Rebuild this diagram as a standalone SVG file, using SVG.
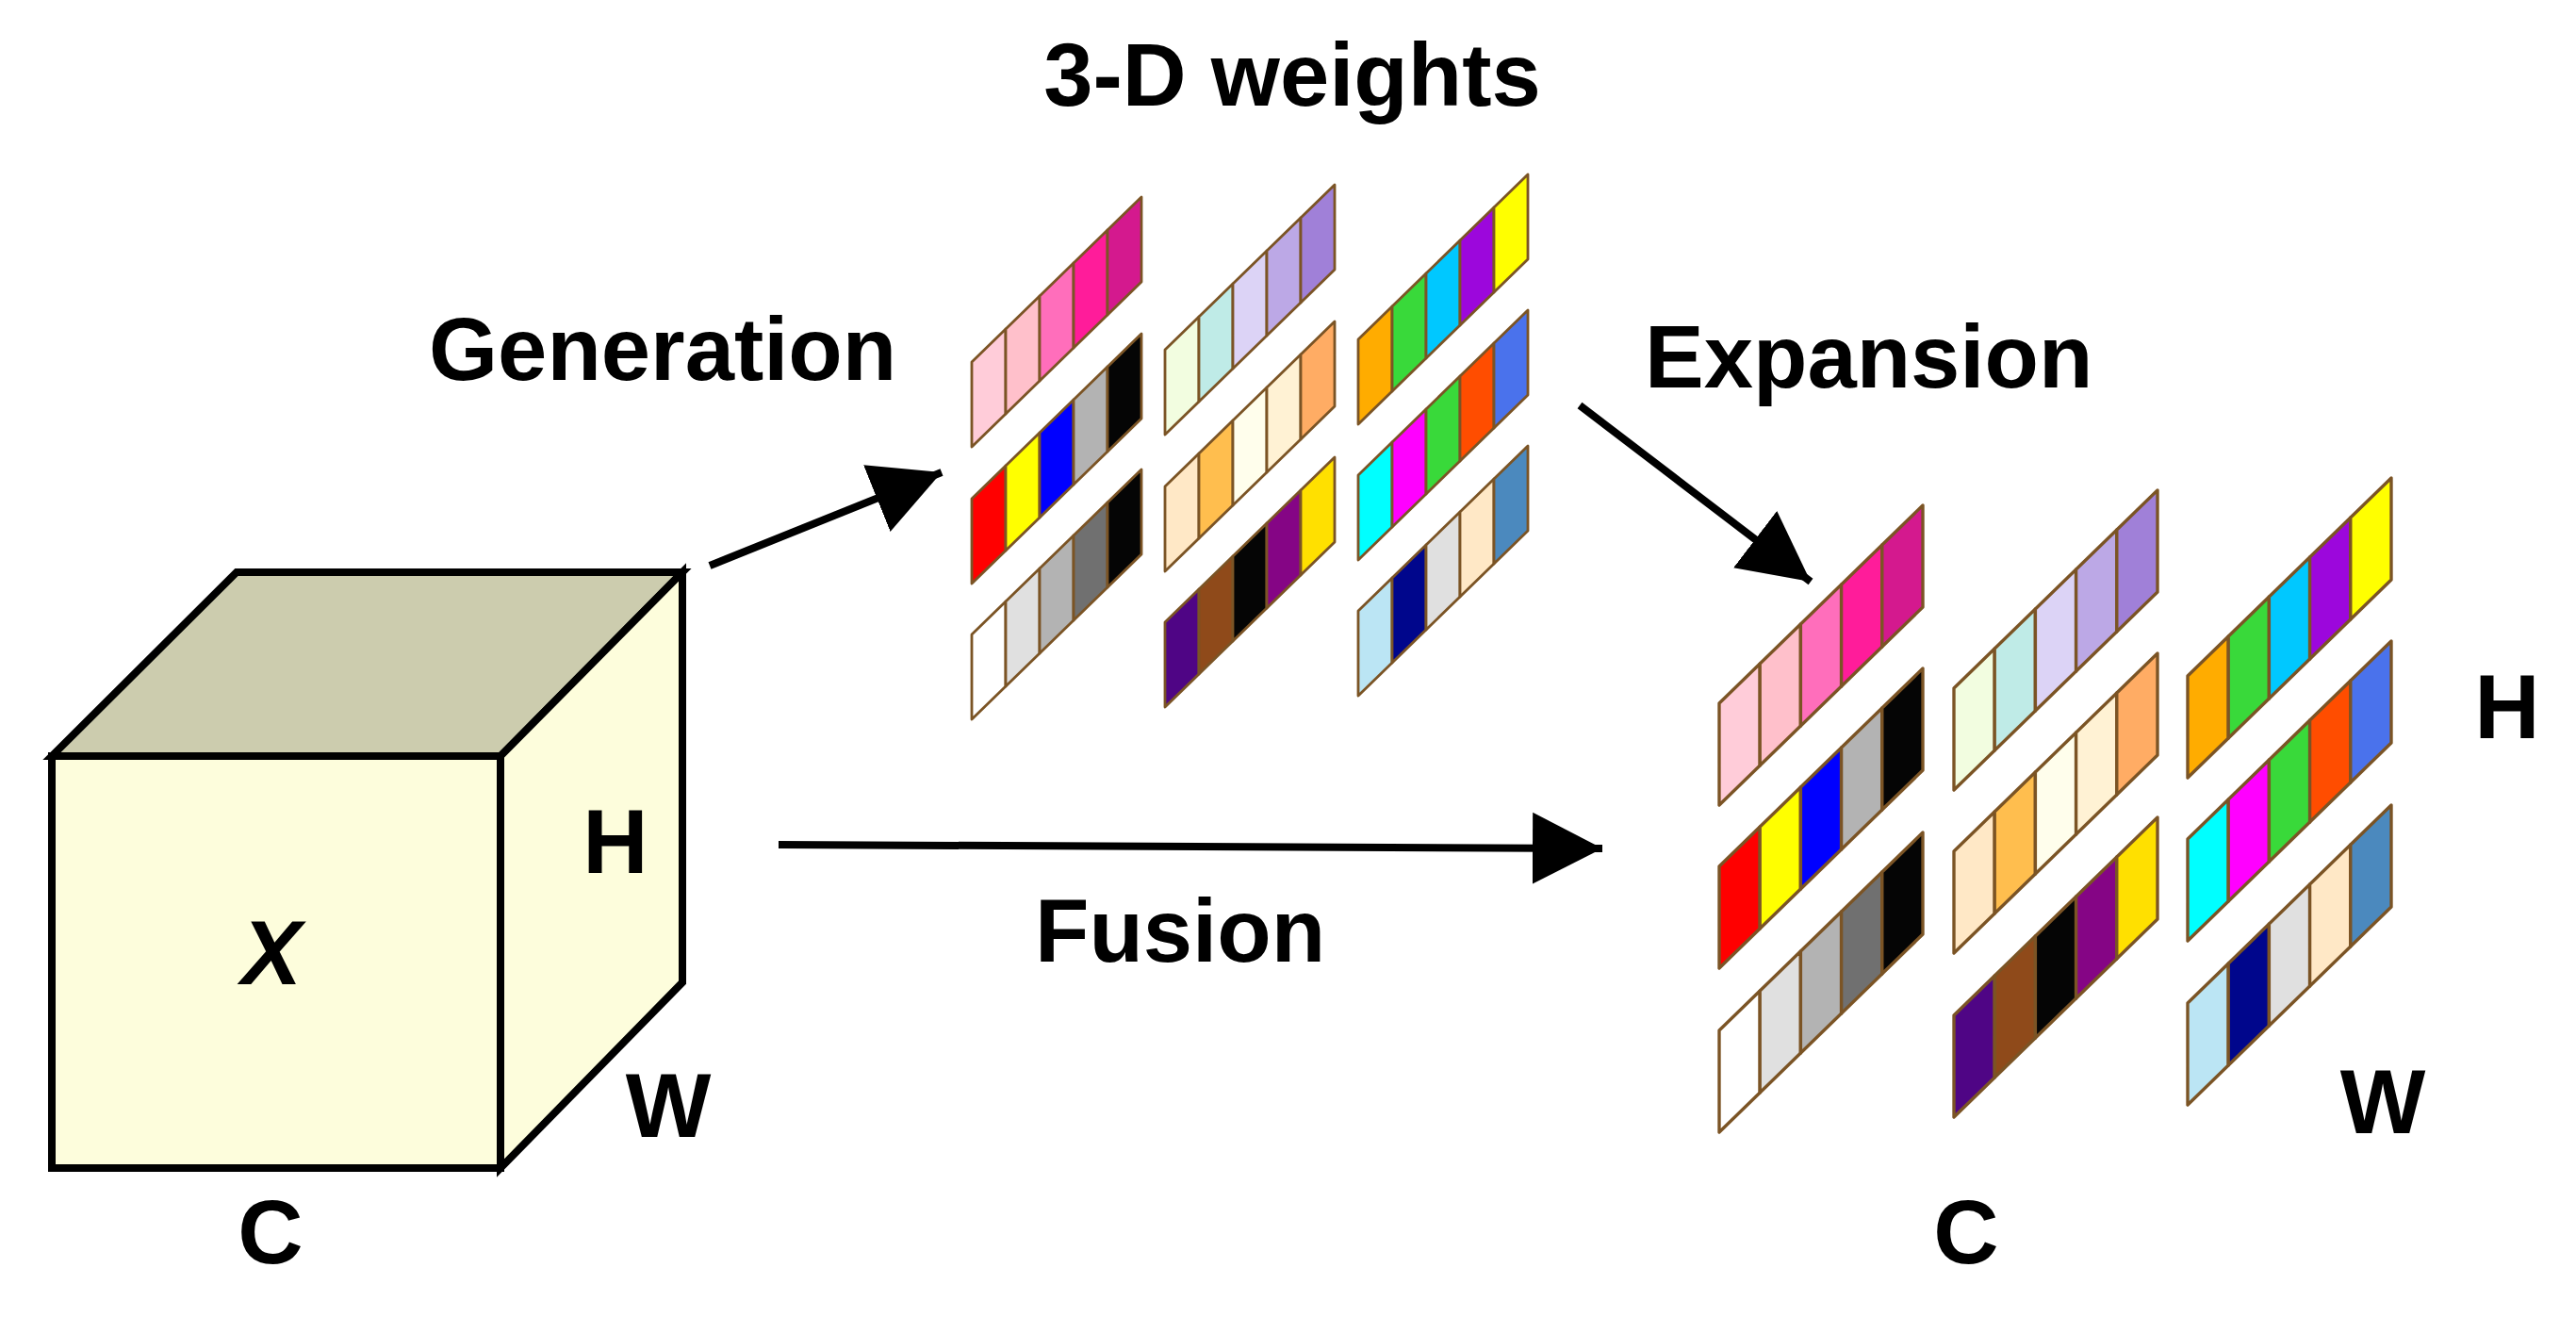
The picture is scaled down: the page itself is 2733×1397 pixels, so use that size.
<svg xmlns="http://www.w3.org/2000/svg" xmlns:xlink="http://www.w3.org/1999/xlink" width="2733" height="1397" viewBox="0 0 2733 1397">
<style>
text{font-family:"Liberation Sans",Arial,sans-serif;font-weight:bold;fill:#000}
.lbl{font-size:94px}
.cube{stroke:#000;stroke-width:8;stroke-linejoin:miter}
.conn{stroke:#000;stroke-width:8;fill:none}
.cell use{stroke:#7B5425;stroke-width:2.8;stroke-linejoin:round}
</style>
<defs>
<polygon id="p0" points="0,0 0,-90 36,-125 36,-35"/>
<polygon id="p1" points="36,-35 36,-125 72,-160 72,-70"/>
<polygon id="p2" points="72,-70 72,-160 108,-195 108,-105"/>
<polygon id="p3" points="108,-105 108,-195 144,-230 144,-140"/>
<polygon id="p4" points="144,-140 144,-230 180,-265 180,-175"/>
<g id="A1"><use href="#p0" fill="#FFCCD9"/><use href="#p1" fill="#FFC0CB"/><use href="#p2" fill="#FF6EBB"/><use href="#p3" fill="#FF1C9A"/><use href="#p4" fill="#D4198E"/></g>
<g id="A2"><use href="#p0" fill="#FF0000"/><use href="#p1" fill="#FFFF00"/><use href="#p2" fill="#0000FF"/><use href="#p3" fill="#B3B3B3"/><use href="#p4" fill="#050505"/></g>
<g id="A3"><use href="#p0" fill="#FFFFFF"/><use href="#p1" fill="#E0E0E0"/><use href="#p2" fill="#B3B3B3"/><use href="#p3" fill="#707070"/><use href="#p4" fill="#050505"/></g>
<g id="B1"><use href="#p0" fill="#F2FDE0"/><use href="#p1" fill="#BFEBE7"/><use href="#p2" fill="#DCD3F6"/><use href="#p3" fill="#BCA8E6"/><use href="#p4" fill="#A080D8"/></g>
<g id="B2"><use href="#p0" fill="#FFE8C6"/><use href="#p1" fill="#FFBE4E"/><use href="#p2" fill="#FFFEEC"/><use href="#p3" fill="#FFF2D4"/><use href="#p4" fill="#FFAC64"/></g>
<g id="B3"><use href="#p0" fill="#4F0585"/><use href="#p1" fill="#8F4A1A"/><use href="#p2" fill="#050505"/><use href="#p3" fill="#850585"/><use href="#p4" fill="#FFE000"/></g>
<g id="C1"><use href="#p0" fill="#FFAC00"/><use href="#p1" fill="#39D93A"/><use href="#p2" fill="#00C8FF"/><use href="#p3" fill="#9C07DC"/><use href="#p4" fill="#FFFF00"/></g>
<g id="C2"><use href="#p0" fill="#00FFFF"/><use href="#p1" fill="#FF00FF"/><use href="#p2" fill="#39D93A"/><use href="#p3" fill="#FF4D00"/><use href="#p4" fill="#4A72EC"/></g>
<g id="C3"><use href="#p0" fill="#BBE5F4"/><use href="#p1" fill="#00068C"/><use href="#p2" fill="#E0E0E0"/><use href="#p3" fill="#FFE8C6"/><use href="#p4" fill="#4B89BE"/></g>
<marker id="ah" markerUnits="userSpaceOnUse" markerWidth="80" markerHeight="80" refX="74" refY="40" orient="auto" viewBox="0 0 80 80"><polygon points="0,2 74,40 0,78" fill="#000"/></marker>
</defs>
<rect width="2733" height="1397" fill="#fff"/>

<g id="cube">
<polygon class="cube" points="55,802 251,607 724,607 531,802" fill="#CCCCAE"/>
<polygon class="cube" points="531,802 724,607 724,1042 531,1239" fill="#FDFDDC"/>
<rect class="cube" x="55" y="802" width="476" height="437" fill="#FDFDDC"/>
<text x="288" y="1044" text-anchor="middle" font-style="italic" style="font-size:96px">X</text>
<text x="653" y="926" text-anchor="middle" style="font-size:96px">H</text>
<text x="709" y="1206" text-anchor="middle" style="font-size:96px">W</text>
<text x="287" y="1340" text-anchor="middle" style="font-size:96px">C</text>
</g>

<g id="weights" class="cell">
<use href="#A1" transform="translate(1031,474)"/>
<use href="#A2" transform="translate(1031,619)"/>
<use href="#A3" transform="translate(1031,763)"/>
<use href="#B1" transform="translate(1236,461)"/>
<use href="#B2" transform="translate(1236,606)"/>
<use href="#B3" transform="translate(1236,750)"/>
<use href="#C1" transform="translate(1441,450)"/>
<use href="#C2" transform="translate(1441,594)"/>
<use href="#C3" transform="translate(1441,738)"/>
<text x="1371" y="112" text-anchor="middle" class="lbl">3-D weights</text>
</g>

<g id="output" class="cell">
<use href="#A1" transform="translate(1824,854) scale(1.2)"/>
<use href="#A2" transform="translate(1824,1027) scale(1.2)"/>
<use href="#A3" transform="translate(1824,1201) scale(1.2)"/>
<use href="#B1" transform="translate(2073,838) scale(1.2)"/>
<use href="#B2" transform="translate(2073,1011) scale(1.2)"/>
<use href="#B3" transform="translate(2073,1185) scale(1.2)"/>
<use href="#C1" transform="translate(2321,825) scale(1.2)"/>
<use href="#C2" transform="translate(2321,998) scale(1.2)"/>
<use href="#C3" transform="translate(2321,1172) scale(1.2)"/>
<text x="2660" y="783" text-anchor="middle" style="font-size:96px">H</text>
<text x="2528" y="1202" text-anchor="middle" style="font-size:96px">W</text>
<text x="2086" y="1340" text-anchor="middle" style="font-size:96px">C</text>
</g>

<g id="connectors">
<line class="conn" x1="753" y1="600" x2="999" y2="501" marker-end="url(#ah)"/>
<line class="conn" x1="1676" y1="430" x2="1921" y2="617" marker-end="url(#ah)"/>
<line class="conn" x1="826" y1="896" x2="1700" y2="900" marker-end="url(#ah)"/>
<text x="455" y="403" class="lbl">Generation</text>
<text x="1745" y="411" class="lbl">Expansion</text>
<text x="1098" y="1020" class="lbl">Fusion</text>
</g>
</svg>
